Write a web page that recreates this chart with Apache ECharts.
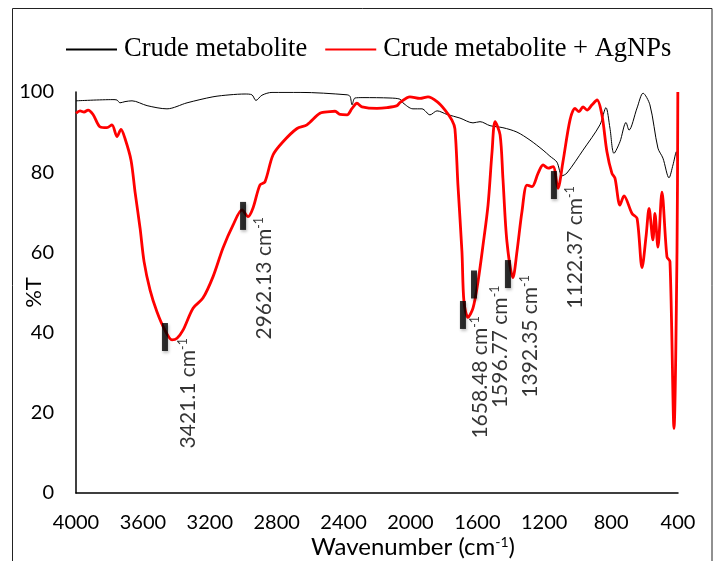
<!DOCTYPE html>
<html>
<head>
<meta charset="utf-8">
<script src="https://cdn.jsdelivr.net/npm/echarts@6/dist/echarts.min.js"></script>
<style>
  html, body { margin: 0; padding: 0; background: #fff; }
  #chart { width: 718px; height: 561px; }
</style>
</head>
<body>
<div id="chart"></div>
<script>
// ---- Data (wavenumber cm-1, %T) ----
const crudeWavenumber = [4000, 3779, 3755, 3737, 3707, 3665, 3575, 3456, 3336, 3181, 3079, 2989, 2948, 2924, 2888, 2828, 2660, 2379, 2361, 2349, 2332, 2284, 2122, 2062, 2045, 1985, 1931, 1883, 1841, 1781, 1704, 1626, 1584, 1524, 1447, 1363, 1285, 1207, 1166, 1124, 1094, 1064, 968, 867, 831, 807, 783, 747, 711, 693, 645, 609, 568, 520, 490, 454, 430, 410, 400];
const crudeT = [97.8, 98.1, 98.0, 97.3, 97.6, 97.8, 96.6, 95.8, 97.3, 98.8, 99.3, 99.5, 99.3, 97.9, 99.2, 99.9, 99.9, 99.3, 98.9, 96.8, 98.5, 98.6, 98.5, 98.2, 97.3, 95.8, 95.8, 94.3, 95.3, 94.4, 93.5, 92.3, 92.6, 91.6, 91.1, 90.0, 88.0, 85.5, 84.0, 82.5, 79.1, 79.8, 85.5, 91.8, 96.1, 91.0, 84.7, 87.6, 92.4, 90.5, 96.0, 99.7, 96.8, 86.0, 83.5, 78.6, 81.8, 85.1, 80.5];

const agWavenumber = [4000, 3976, 3952, 3928, 3898, 3856, 3815, 3785, 3755, 3731, 3707, 3671, 3647, 3617, 3593, 3557, 3516, 3468, 3426, 3396, 3360, 3300, 3241, 3181, 3121, 3061, 3007, 2971, 2942, 2900, 2870, 2822, 2762, 2678, 2619, 2541, 2481, 2451, 2421, 2379, 2349, 2320, 2290, 2200, 2140, 2080, 2062, 2003, 1943, 1895, 1841, 1793, 1752, 1734, 1716, 1692, 1680, 1656, 1626, 1596, 1566, 1536, 1512, 1494, 1464, 1447, 1423, 1387, 1363, 1333, 1303, 1273, 1237, 1207, 1177, 1147, 1118, 1088, 1046, 1016, 992, 968, 944, 914, 884, 855, 825, 795, 777, 747, 723, 675, 645, 615, 591, 573, 550, 538, 520, 496, 466, 448, 424, 406, 401];
const agT = [94.7, 95.3, 95.0, 95.5, 94.4, 91.3, 91.1, 91.8, 88.9, 90.7, 88.4, 83.0, 75.1, 66.1, 57.7, 50.6, 45.2, 40.6, 38.2, 38.6, 40.6, 46.1, 48.6, 53.9, 61.1, 66.8, 70.6, 68.9, 71.0, 76.8, 77.6, 84.3, 87.6, 90.9, 91.8, 94.7, 95.1, 95.2, 94.4, 94.3, 95.9, 97.2, 96.3, 95.9, 96.1, 96.6, 97.4, 98.8, 98.4, 98.8, 97.6, 95.5, 93.0, 90.8, 76.8, 60.2, 47.7, 43.8, 46.1, 52.7, 61.8, 71.8, 85.1, 92.6, 89.3, 78.5, 62.7, 53.7, 60.2, 70.2, 76.8, 76.4, 79.7, 81.8, 81.0, 81.4, 76.0, 82.6, 93.0, 95.9, 95.1, 96.3, 95.5, 96.8, 98.0, 94.3, 85.1, 79.7, 78.5, 71.8, 74.1, 69.7, 68.5, 56.2, 64.0, 71.0, 63.1, 69.7, 61.3, 75.0, 58.9, 57.7, 16.1, 60.0, 100];

// Peak annotations: label text, marker position (wavenumber, %T)
const peakLabels = ['3421.1', '2962.13', '1658.48', '1596.77', '1392.35', '1122.37'];
const peakMarkerWavenumber = [3468, 3001, 1686, 1620, 1417, 1142];
const peakMarkerT = [38.9, 69.1, 44.4, 52.0, 54.6, 76.8];

const xTicks = { min: 400, max: 4000, interval: 400 };
const yTicks = { min: 0, max: 100, interval: 20 };

// ---- build ----
const zip = (a, b) => a.map((v, i) => [v, b[i]]);
// screen offset of each rotated label from its marker (right, down)
const labelDx = [23, 21, 17, 26, 22, 21];
const labelDy = 1;

const sansFont = 'Lato, "Open Sans", sans-serif';

const peakData = peakLabels.map((lab, i) => ({
  value: [peakMarkerWavenumber[i], peakMarkerT[i]],
  label: {
    show: true,
    position: 'inside',
    rotate: 90,
    align: 'right',
    verticalAlign: 'middle',
    // offset is applied in the label's rotated frame
    offset: [-labelDy, labelDx[i]],
    formatter: '{n|' + lab + ' cm}{s|-1}',
    rich: {
      n: { fontSize: 21, fontFamily: sansFont, color: '#000', lineHeight: 23 },
      s: { fontSize: 12.5, fontFamily: sansFont, color: '#000', lineHeight: 23, verticalAlign: 'top', padding: [0, 0, 8, 0] }
    }
  }
}));

const chart = echarts.init(document.getElementById('chart'), null, { renderer: 'canvas' });
chart.setOption({
  animation: false,
  backgroundColor: '#fff',
  graphic: [{
    type: 'rect',
    shape: { x: 12.5, y: 8.5, width: 699.5, height: 620 },
    style: { fill: 'none', stroke: '#222', lineWidth: 1 },
    silent: true
  }],
  legend: {
    left: 65,
    top: 36,
    padding: 0,
    itemWidth: 51,
    itemHeight: 14,
    itemGap: 17,
    itemStyle: { opacity: 0 },
    data: ['Crude metabolite', 'Crude metabolite + AgNPs'],
    textStyle: { fontFamily: '"Liberation Serif", "Times New Roman", serif', fontSize: 26.5, color: '#000', padding: [0, 0, 0, 2] }
  },
  grid: { left: 76, right: 40, top: 92, bottom: 68, containLabel: false, outerBoundsMode: 'none' },
  xAxis: {
    type: 'value',
    inverse: true,
    min: xTicks.min, max: xTicks.max, interval: xTicks.interval,
    name: 'Wavenumber (cm{s|-1})',
    nameLocation: 'middle',
    nameGap: 42,
    nameMoveOverlap: false,
    nameTextStyle: {
      fontFamily: sansFont, fontSize: 24, color: '#000', padding: [0, 0, 0, 72],
      rich: { s: { fontFamily: sansFont, fontSize: 14, color: '#000', verticalAlign: 'top', padding: [0, 0, 10, 0] } }
    },
    axisLine: { show: true, lineStyle: { color: '#000', width: 1.5 } },
    axisTick: { show: false },
    splitLine: { show: false },
    axisLabel: { fontFamily: sansFont, fontSize: 20, color: '#000', margin: 20, formatter: v => String(v) }
  },
  yAxis: {
    type: 'value',
    min: yTicks.min, max: yTicks.max, interval: yTicks.interval,
    name: '%T',
    nameLocation: 'middle',
    nameGap: 31,
    nameMoveOverlap: false,
    nameTextStyle: { fontFamily: sansFont, fontSize: 22, color: '#000' },
    axisLine: { show: true, lineStyle: { color: '#000', width: 1.5 } },
    axisTick: { show: false },
    splitLine: { show: false },
    axisLabel: { fontFamily: sansFont, fontSize: 20, color: '#000', margin: 22, formatter: v => String(v) }
  },
  series: [
    {
      name: 'Crude metabolite',
      type: 'line',
      data: zip(crudeWavenumber, crudeT),
      symbol: 'none',
      smooth: 0.3,
      lineStyle: { color: '#000', width: 1 },
      itemStyle: { color: '#000' },
      z: 2
    },
    {
      name: 'Crude metabolite + AgNPs',
      type: 'line',
      data: zip(agWavenumber, agT),
      symbol: 'none',
      smooth: 0.3,
      lineStyle: { color: '#ff0000', width: 2.8 },
      itemStyle: { color: '#ff0000' },
      z: 3
    },
    {
      name: 'peaks',
      type: 'scatter',
      data: peakData,
      symbol: 'rect',
      symbolSize: [6, 28],
      itemStyle: { color: '#000', shadowBlur: 3, shadowColor: 'rgba(0,0,0,0.3)', shadowOffsetX: 1, shadowOffsetY: 2 },
      z: 5,
      silent: true
    }
  ]
});
</script>
</body>
</html>
